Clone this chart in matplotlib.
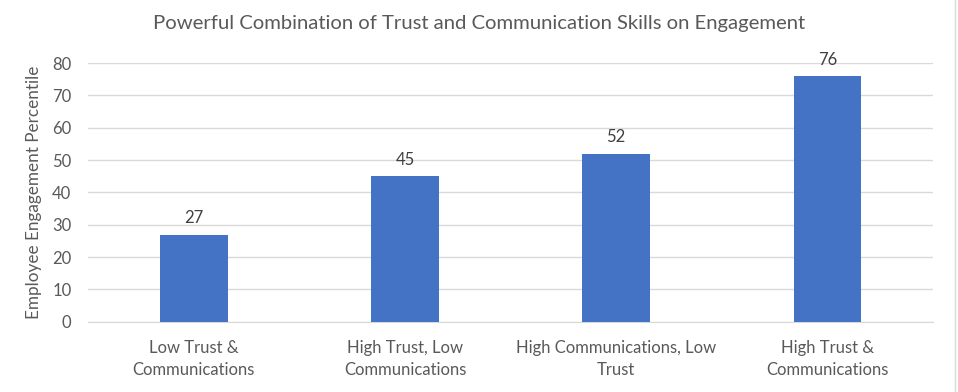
import matplotlib.pyplot as plt
from matplotlib.lines import Line2D

categories = ["Low Trust &\nCommunications", "High Trust, Low\nCommunications",
              "High Communications, Low\nTrust", "High Trust &\nCommunications"]
values = [27, 45, 52, 76]
yticks = [0, 10, 20, 30, 40, 50, 60, 70, 80]

plt.rcParams['font.family'] = ['Lato', 'DejaVu Sans']

fig = plt.figure(figsize=(9.58, 3.92), dpi=100)
ax = fig.add_axes([0.092, 0.179, 0.882, 0.66])

x = range(len(values))
bars = ax.bar(x, values, width=0.32, color='#4472C4', zorder=3)
for b, v in zip(bars, values):
    ax.text(b.get_x() + b.get_width() / 2, v + 2.6, str(v), ha='center', va='bottom',
            fontsize=12, color='#404040')

ax.set_xlim(-0.5, len(values) - 0.5)
ax.set_ylim(0, 80)
ax.set_yticks(yticks)
ax.set_xticks(list(x))
ax.set_xticklabels(categories, fontsize=12, color='#595959', linespacing=1.45)
ax.tick_params(axis='y', labelsize=12, labelcolor='#595959', length=0, pad=12)
ax.tick_params(axis='x', length=0, pad=13)
ax.grid(axis='y', color='#d9d9d9', linewidth=1, zorder=0)
for s in ['top', 'right', 'left']:
    ax.spines[s].set_visible(False)
ax.spines['bottom'].set_color('#d9d9d9')

ax.set_ylabel("Employee Engagement Percentile", fontsize=12.3, color='#595959', labelpad=7)
fig.text(0.5, 0.94, "Powerful Combination of Trust and Communication Skills on Engagement",
         ha='center', va='center', fontsize=14.6, color='#595959')

fig.add_artist(Line2D([0.997, 0.997], [0, 1], color='#d9d9d9', linewidth=1,
                      transform=fig.transFigure))

fig.savefig("out.png", dpi=100)
